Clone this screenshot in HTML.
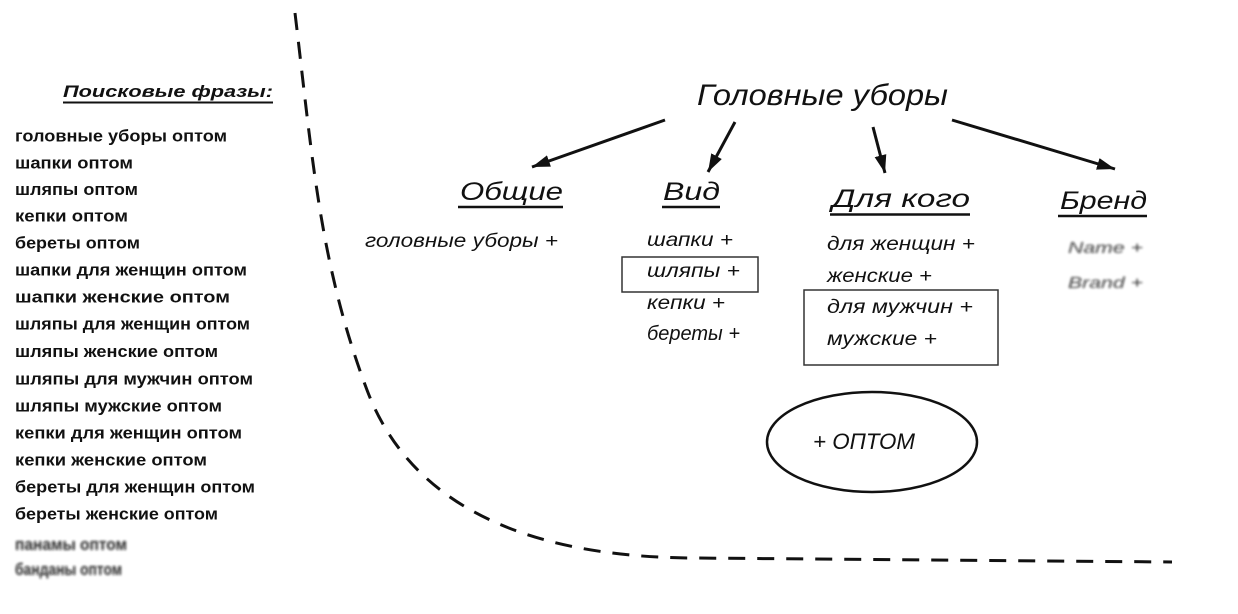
<!DOCTYPE html>
<html>
<head>
<meta charset="utf-8">
<style>
html,body{margin:0;padding:0;background:#fff;}
svg{display:block;}
.list{font-family:"Liberation Sans","DejaVu Sans",sans-serif;font-weight:bold;font-size:17px;fill:#111;}
.dg{font-family:"Liberation Sans","DejaVu Sans",sans-serif;font-style:italic;fill:#111;}
</style>
</head>
<body>
<svg width="1238" height="614" viewBox="0 0 1238 614" xmlns="http://www.w3.org/2000/svg">
<defs>
<filter id="bl" x="-10%" y="-50%" width="120%" height="200%"><feGaussianBlur stdDeviation="1.4"/></filter>
<marker id="ah" markerUnits="userSpaceOnUse" markerWidth="24" markerHeight="16" refX="18" refY="6" orient="auto">
<path d="M0,0 L18,6 L0,12 z" fill="#111"/>
</marker>
</defs>
<rect width="1238" height="614" fill="#fff"/>

<!-- dashed boundary -->
<path d="M295,13 C312.7,160.6 320,265 367,390 C408.5,500.3 518,557 693,558 L1172,562" fill="none" stroke="#111" stroke-width="3" stroke-dasharray="17 12" stroke-linejoin="round"/>

<!-- left title -->
<text class="dg" x="63" y="97" font-size="17" font-weight="bold" textLength="210" lengthAdjust="spacingAndGlyphs">Поисковые фразы:</text>
<line x1="63" y1="102.5" x2="273" y2="102.5" stroke="#111" stroke-width="2"/>

<!-- list -->
<text class="list" x="15" y="141.5" textLength="212" lengthAdjust="spacingAndGlyphs">головные уборы оптом</text>
<text class="list" x="15" y="168.5" textLength="118" lengthAdjust="spacingAndGlyphs">шапки оптом</text>
<text class="list" x="15" y="195" textLength="123" lengthAdjust="spacingAndGlyphs">шляпы оптом</text>
<text class="list" x="15" y="221.5" textLength="113" lengthAdjust="spacingAndGlyphs">кепки оптом</text>
<text class="list" x="15" y="248.5" textLength="125" lengthAdjust="spacingAndGlyphs">береты оптом</text>
<text class="list" x="15" y="275.5" textLength="232" lengthAdjust="spacingAndGlyphs">шапки для женщин оптом</text>
<text class="list" x="15" y="302.5" textLength="215" lengthAdjust="spacingAndGlyphs">шапки женские оптом</text>
<text class="list" x="15" y="329.5" textLength="235" lengthAdjust="spacingAndGlyphs">шляпы для женщин оптом</text>
<text class="list" x="15" y="357" textLength="203" lengthAdjust="spacingAndGlyphs">шляпы женские оптом</text>
<text class="list" x="15" y="384.5" textLength="238" lengthAdjust="spacingAndGlyphs">шляпы для мужчин оптом</text>
<text class="list" x="15" y="411.5" textLength="207" lengthAdjust="spacingAndGlyphs">шляпы мужские оптом</text>
<text class="list" x="15" y="438.5" textLength="227" lengthAdjust="spacingAndGlyphs">кепки для женщин оптом</text>
<text class="list" x="15" y="465.5" textLength="192" lengthAdjust="spacingAndGlyphs">кепки женские оптом</text>
<text class="list" x="15" y="492.5" textLength="240" lengthAdjust="spacingAndGlyphs">береты для женщин оптом</text>
<text class="list" x="15" y="519.5" textLength="203" lengthAdjust="spacingAndGlyphs">береты женские оптом</text>
<g filter="url(#bl)" opacity="0.9">
<text class="list" x="15" y="550" textLength="112" lengthAdjust="spacingAndGlyphs" fill="#555">панамы оптом</text>
<text class="list" x="15" y="575" textLength="107" lengthAdjust="spacingAndGlyphs" fill="#555">банданы оптом</text>
</g>

<!-- root -->
<text class="dg" x="697" y="105" font-size="30" textLength="251" lengthAdjust="spacingAndGlyphs">Головные уборы</text>

<!-- arrows -->
<line x1="665" y1="120" x2="532" y2="167" stroke="#111" stroke-width="3" marker-end="url(#ah)"/>
<line x1="735" y1="122" x2="708" y2="172" stroke="#111" stroke-width="3" marker-end="url(#ah)"/>
<line x1="873" y1="127" x2="885" y2="173" stroke="#111" stroke-width="3" marker-end="url(#ah)"/>
<line x1="952" y1="120" x2="1115" y2="169" stroke="#111" stroke-width="3" marker-end="url(#ah)"/>

<!-- headings -->
<text class="dg" x="460" y="200" font-size="25" textLength="103" lengthAdjust="spacingAndGlyphs">Общие</text>
<line x1="458" y1="207" x2="563" y2="207" stroke="#111" stroke-width="2.5"/>
<text class="dg" x="663" y="200" font-size="25" textLength="57" lengthAdjust="spacingAndGlyphs">Вид</text>
<line x1="662" y1="207" x2="720" y2="207" stroke="#111" stroke-width="2.5"/>
<text class="dg" x="832" y="207" font-size="25" textLength="138" lengthAdjust="spacingAndGlyphs">Для кого</text>
<line x1="830" y1="214.5" x2="970" y2="214.5" stroke="#111" stroke-width="2.5"/>
<text class="dg" x="1060" y="209" font-size="25" textLength="87" lengthAdjust="spacingAndGlyphs">Бренд</text>
<line x1="1058" y1="216" x2="1147" y2="216" stroke="#111" stroke-width="2.5"/>

<!-- Общие items -->
<text class="dg" x="365" y="247" font-size="19" textLength="193" lengthAdjust="spacingAndGlyphs">головные уборы +</text>

<!-- Вид items -->
<text class="dg" x="647" y="246" font-size="19" textLength="86" lengthAdjust="spacingAndGlyphs">шапки +</text>
<rect x="622" y="257" width="136" height="35" fill="none" stroke="#333" stroke-width="1.5"/>
<text class="dg" x="647" y="277" font-size="19" textLength="93" lengthAdjust="spacingAndGlyphs">шляпы +</text>
<text class="dg" x="647" y="309" font-size="19" textLength="78" lengthAdjust="spacingAndGlyphs">кепки +</text>
<text class="dg" x="647" y="340" font-size="20" textLength="93" lengthAdjust="spacingAndGlyphs">береты +</text>

<!-- Для кого items -->
<text class="dg" x="827" y="250" font-size="19" textLength="148" lengthAdjust="spacingAndGlyphs">для женщин +</text>
<text class="dg" x="827" y="282" font-size="19" textLength="105" lengthAdjust="spacingAndGlyphs">женские +</text>
<rect x="804" y="290" width="194" height="75" fill="none" stroke="#333" stroke-width="1.5"/>
<text class="dg" x="827" y="313" font-size="19" textLength="146" lengthAdjust="spacingAndGlyphs">для мужчин +</text>
<text class="dg" x="827" y="345" font-size="19" textLength="110" lengthAdjust="spacingAndGlyphs">мужские +</text>

<!-- Бренд items (blurred) -->
<g filter="url(#bl)" opacity="0.8">
<text class="dg" x="1068" y="253" font-size="16" textLength="75" lengthAdjust="spacingAndGlyphs" fill="#666">Name +</text>
<text class="dg" x="1068" y="288" font-size="16" textLength="75" lengthAdjust="spacingAndGlyphs" fill="#666">Brand +</text>
</g>

<!-- ellipse -->
<ellipse cx="872" cy="442" rx="105" ry="50" fill="none" stroke="#111" stroke-width="2.5"/>
<text class="dg" x="813" y="449" font-size="22" textLength="102" lengthAdjust="spacingAndGlyphs">+ ОПТОМ</text>
</svg>
</body>
</html>
